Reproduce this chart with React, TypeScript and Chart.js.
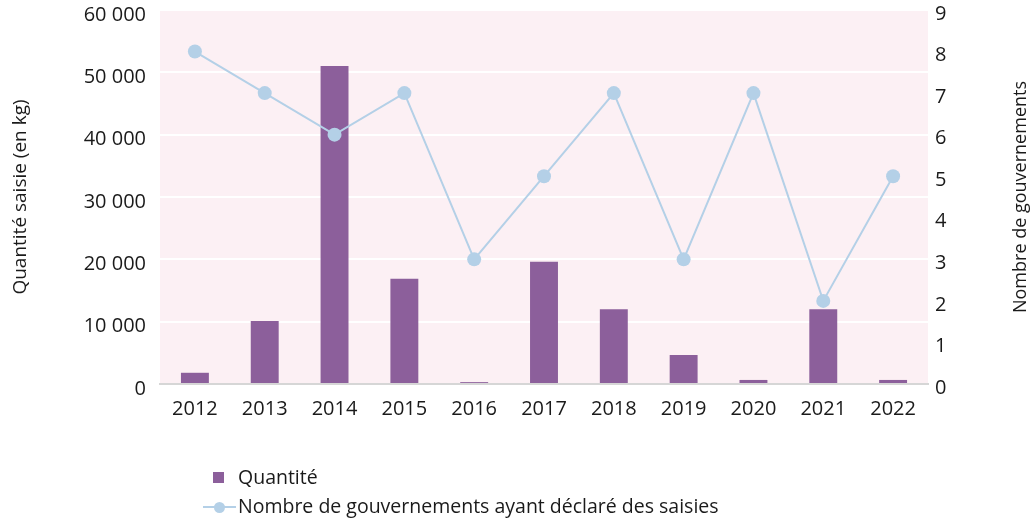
import React, { useEffect, useRef } from 'react';
import { Chart, registerables } from 'chart.js';

Chart.register(...registerables);

const years = ['2012', '2013', '2014', '2015', '2016', '2017', '2018', '2019', '2020', '2021', '2022'];
const quantites = [1800, 10100, 51000, 16900, 300, 19600, 12000, 4650, 650, 12000, 650];
const gouvernements = [8, 7, 6, 7, 3, 5, 7, 3, 7, 2, 5];
const leftMax = 60000;
const rightMax = 9;

const barLabel = 'Quantité';
const lineLabel = 'Nombre de gouvernements ayant déclaré des saisies';
const leftTitle = 'Quantité saisie (en kg)';
const rightTitle = 'Nombre de gouvernements';

const FONT = '"Open Sans", sans-serif';
const BAR_COLOR = '#8c5f9b';
const LINE_COLOR = '#b4d0e7';
const BG_COLOR = '#fcf0f4';
const TEXT_COLOR = '#1a1a1a';

const fmt = (v: number) => {
  const s = Math.round(v).toString();
  return s.replace(/\B(?=(\d{3})+(?!\d))/g, ' ');
};

const bgPlugin = {
  id: 'bgPlugin',
  beforeDraw(chart: any) {
    const { ctx, chartArea } = chart;
    ctx.save();
    ctx.fillStyle = BG_COLOR;
    ctx.fillRect(chartArea.left, chartArea.top, chartArea.right - chartArea.left, chartArea.bottom - chartArea.top);
    ctx.restore();
  },
  afterDraw(chart: any) {
    const { ctx, chartArea } = chart;
    ctx.save();
    ctx.fillStyle = TEXT_COLOR;
    ctx.font = `18px ${FONT}`;
    ctx.textAlign = 'center';
    ctx.textBaseline = 'middle';
    ctx.translate(1021, (chartArea.top + chartArea.bottom) / 2);
    ctx.rotate(-Math.PI / 2);
    ctx.fillText(rightTitle, 0, 0);
    ctx.restore();
  },
};

export default function App() {
  const ref = useRef<HTMLCanvasElement | null>(null);

  useEffect(() => {
    if (!ref.current) return;
    const chart = new Chart(ref.current, {
      type: 'bar',
      data: {
        labels: years,
        datasets: [
          {
            type: 'line',
            label: lineLabel,
            data: gouvernements,
            yAxisID: 'y1',
            borderColor: LINE_COLOR,
            backgroundColor: LINE_COLOR,
            borderWidth: 2,
            pointRadius: 7,
            pointBackgroundColor: LINE_COLOR,
            pointBorderWidth: 0,
            tension: 0,
            order: 0,
          } as any,
          {
            type: 'bar',
            label: barLabel,
            data: quantites,
            yAxisID: 'y',
            backgroundColor: BAR_COLOR,
            barPercentage: 0.4,
            categoryPercentage: 1,
            order: 1,
          },
        ],
      },
      options: {
        animation: false,
        responsive: true,
        maintainAspectRatio: false,
        layout: { padding: { top: 10, left: 0, right: 0, bottom: 0 } },
        plugins: {
          legend: { display: false },
          tooltip: { enabled: false },
        },
        scales: {
          x: {
            grid: { display: false, drawTicks: false },
            border: { display: true, color: '#d6d6d6', width: 2 },
            ticks: { color: TEXT_COLOR, font: { family: FONT, size: 20 }, padding: 13 },
            afterFit(scale: any) {
              scale.height = 137;
              scale.paddingLeft = 0;
              scale.paddingRight = 0;
            },
          },
          y: {
            position: 'left',
            min: 0,
            max: leftMax,
            grid: { color: '#ffffff', lineWidth: 2, drawTicks: false },
            border: { display: false },
            ticks: {
              stepSize: 10000,
              color: TEXT_COLOR,
              font: { family: FONT, size: 20 },
              padding: 14,
              labelOffset: 5,
              callback: (v: any) => fmt(Number(v)),
            },
            title: {
              display: true,
              text: leftTitle,
              color: TEXT_COLOR,
              font: { family: FONT, size: 19 },
              padding: { top: 9, bottom: 0 },
            },
            afterFit(scale: any) {
              scale.width = 160;
              scale.paddingTop = 0;
              scale.paddingBottom = 0;
            },
          },
          y1: {
            position: 'right',
            min: 0,
            max: rightMax,
            grid: { display: false, drawTicks: false },
            border: { display: false },
            ticks: {
              stepSize: 1,
              color: TEXT_COLOR,
              font: { family: FONT, size: 20 },
              padding: 7,
              labelOffset: 4,
            },
            afterFit(scale: any) {
              scale.width = 106;
              scale.paddingTop = 0;
              scale.paddingBottom = 0;
            },
          },
        },
      },
      plugins: [bgPlugin],
    });
    return () => chart.destroy();
  }, []);

  const textStyle: React.CSSProperties = {
    position: 'absolute',
    fontFamily: FONT,
    fontSize: 19.5,
    color: TEXT_COLOR,
    whiteSpace: 'nowrap',
    lineHeight: '24px',
  };

  return (
    <div style={{ position: 'fixed', left: 0, top: 0, width: 1034, height: 521, background: '#ffffff' }}>
      <canvas ref={ref} style={{ position: 'absolute', left: 0, top: 0 }} />
      <div style={{ position: 'absolute', left: 213, top: 472, width: 11, height: 11, background: BAR_COLOR }} />
      <div style={{ ...textStyle, left: 238, top: 465 }}>{barLabel}</div>
      <div style={{ position: 'absolute', left: 203, top: 506, width: 33, height: 2, background: LINE_COLOR }} />
      <div style={{ position: 'absolute', left: 214, top: 502, width: 11, height: 11, borderRadius: 6, background: LINE_COLOR }} />
      <div style={{ ...textStyle, left: 238, top: 494 }}>{lineLabel}</div>
    </div>
  );
}
